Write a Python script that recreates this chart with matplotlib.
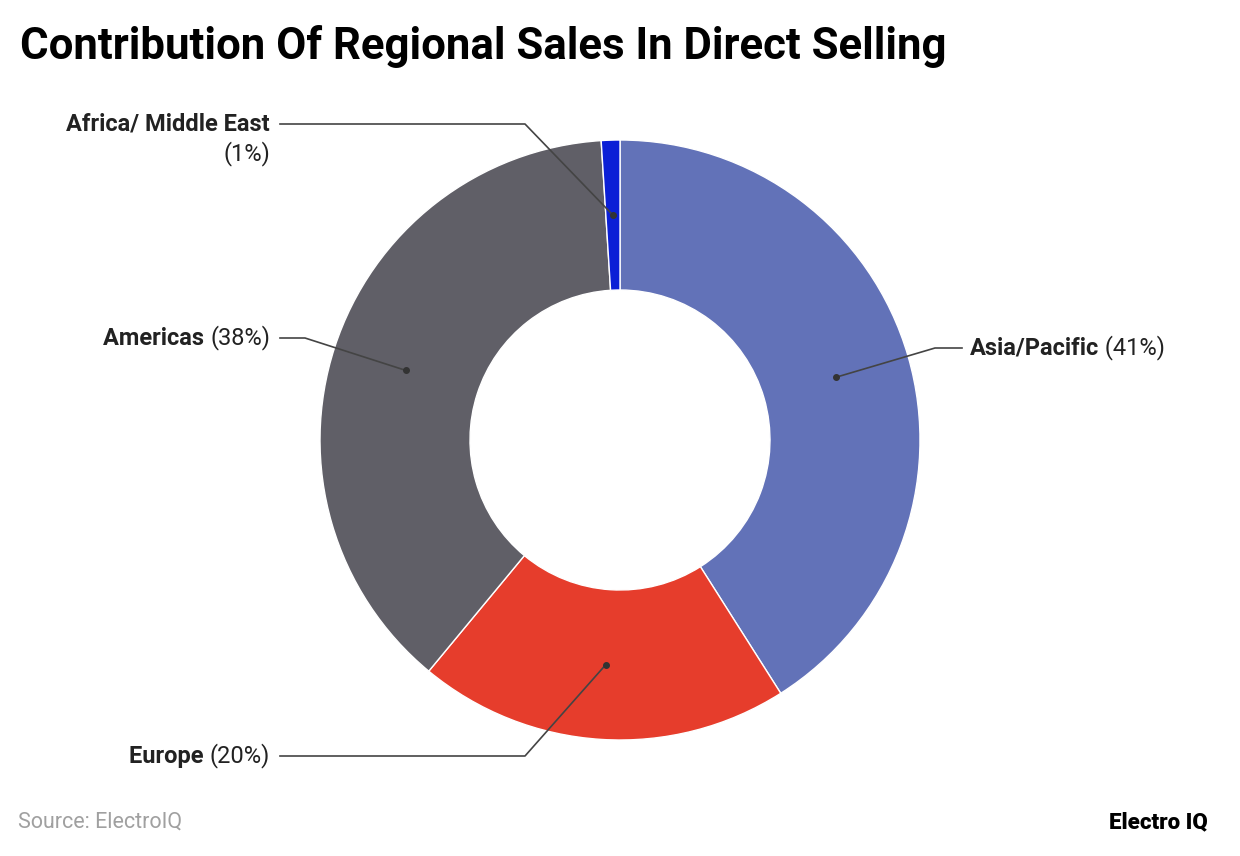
import numpy as np
import matplotlib.pyplot as plt

# data
regions = ['Asia/Pacific', 'Europe', 'Americas', 'Africa/ Middle East']
shares = [41, 20, 38, 1]
colors = ['#6272B8', '#E63D2C', '#605F67', '#0B1FD6']

W, H = 1240, 856
fig = plt.figure(figsize=(W / 100, H / 100), dpi=100)
ax = fig.add_axes([0, 0, 1, 1])
ax.set_aspect('equal')
ax.axis('off')

cx, cy, R = 620, H - 440, 300
wedges, _ = ax.pie(shares, colors=colors, startangle=90, counterclock=False,
                   center=(cx, cy), radius=R,
                   wedgeprops=dict(width=150, edgecolor='white', linewidth=1))
ax.set_xlim(0, W)
ax.set_ylim(0, H)

# label anchor (elbow x, y in px from top, end x, text side)
anchors = [
    (935, 348, 962, 'left'),
    (525, 756, 280, 'right'),
    (305, 338, 280, 'right'),
    (525, 124, 280, 'right'),
]
fs = 17
tc = '#222222'

start = 0
for name, val, (ex, ey, tx, side) in zip(regions, shares, anchors):
    mid = (start + val / 2) / 100 * 2 * np.pi
    start += val
    dx, dy = cx + 225 * np.sin(mid), cy + 225 * np.cos(mid)
    ey2 = H - ey
    ax.plot([dx, ex, tx], [dy, ey2, ey2], color='#444444', lw=1.2)
    ax.plot(dx, dy, 'o', color='#333333', ms=4)
    if side == 'left':
        t = ax.annotate(name, (tx + 8, ey2), va='center', ha='left',
                        fontsize=fs, fontweight='bold', family='Roboto', color=tc)
        ax.annotate(f' ({val}%)', xycoords=t, xy=(1, 0.5), va='center', ha='left',
                    fontsize=fs, family='Roboto', color=tc)
    elif name.startswith('Africa'):
        ax.text(tx - 10, ey2, name, va='center', ha='right', fontsize=fs,
                fontweight='bold', family='Roboto', color=tc)
        ax.text(tx - 10, ey2 - 30, f'({val}%)', va='center', ha='right',
                fontsize=fs, family='Roboto', color=tc)
    else:
        p = ax.text(tx - 10, ey2, f'({val}%)', va='center', ha='right',
                    fontsize=fs, family='Roboto', color=tc)
        ax.annotate(name + ' ', xycoords=p, xy=(0, 0.5), va='center', ha='right',
                    fontsize=fs, fontweight='bold', family='Roboto', color=tc)

fig.text(20 / W, 1 - 47 / H, 'Contribution Of Regional Sales In Direct Selling',
         fontsize=31.5, fontweight='bold', family='Roboto', va='center', ha='left')
fig.text(18 / W, 1 - 822 / H, 'Source: ElectroIQ', fontsize=15.5, family='Roboto',
         color='#a0a0a0', va='center')
fig.text(1208 / W, 1 - 822 / H, 'Electro IQ', fontsize=16, fontweight='heavy',
         family='Roboto', ha='right', va='center')

fig.savefig('out.png', dpi=100)
